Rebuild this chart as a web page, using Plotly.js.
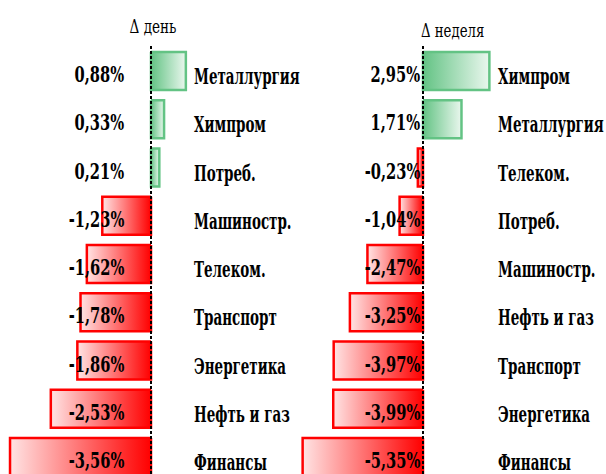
<!DOCTYPE html>
<html><head><meta charset="utf-8">
<script src="https://cdn.plot.ly/plotly-3.0.1.min.js"></script>
<style>html,body{margin:0;padding:0;background:#fff}#c{width:606px;height:474px}</style>
</head><body><div id="c"></div>
<script>
const title1 = 'Δ день';
const title2 = 'Δ неделя';
const cats1 = ['Металлургия','Химпром','Потреб.','Машиностр.','Телеком.','Транспорт','Энергетика','Нефть и газ','Финансы'];
const vals1 = [0.88, 0.33, 0.21, -1.23, -1.62, -1.78, -1.86, -2.53, -3.56];
const cats2 = ['Химпром','Металлургия','Телеком.','Потреб.','Машиностр.','Нефть и газ','Транспорт','Энергетика','Финансы'];
const vals2 = [2.95, 1.71, -0.23, -1.04, -2.47, -3.25, -3.97, -3.99, -5.35];

const FONT = '"DejaVu Serif Condensed", "DejaVu Sans Condensed", serif';
const GREEN = '#63c384', RED = '#ff0000';
const half = 0.394;

function fmt(v){ return v.toFixed(2).replace('.', ',') + '%'; }

const traces = [];
const annotations = [];
const squeeze = [];   // horizontal text compression per annotation
function panel(vals, cats, xa, labelX, catX){
  vals.forEach((v, i) => {
    const pos = v >= 0;
    traces.push({
      type:'scatter', mode:'lines', xaxis:xa, yaxis:'y',
      x:[0, v, v, 0, 0], y:[i-half, i-half, i+half, i+half, i-half],
      fill:'toself',
      fillgradient:{type:'horizontal',
        start: pos ? 0 : v, stop: pos ? v : 0,
        colorscale: pos ? [[0, GREEN],[1,'#eaf7ee']] : [[0,'#ffe4e4'],[1, RED]]},
      line:{color: pos ? GREEN : RED, width:2.5},
      hoverinfo:'skip', showlegend:false
    });
    annotations.push({xref:xa, yref:'y', x:labelX, y:i, xanchor:'right', yanchor:'middle', yshift:-3,
      text:fmt(v), showarrow:false, font:{family:FONT, size:22, weight:'bold', color:'#000'}});
    squeeze.push([0.74, 'right']);
    annotations.push({xref:'paper', yref:'y', x:catX, y:i, xanchor:'left', yanchor:'middle', yshift:-5,
      text:cats[i], showarrow:false, font:{family:FONT, size:22, weight:'bold', color:'#000'}});
    squeeze.push([0.68, 'left']);
  });
}
panel(vals1, cats1, 'x', -0.62, 192/606);
panel(vals2, cats2, 'x2', -0.03, 496/606);

annotations.push({xref:'paper', yref:'paper', x:153/606, y:1-27/474, xanchor:'center', yanchor:'middle',
  text:title1, showarrow:false, font:{family:FONT, size:18, color:'#000'}});
squeeze.push([0.84, 'center']);
annotations.push({xref:'paper', yref:'paper', x:452/606, y:1-31/474, xanchor:'center', yanchor:'middle',
  text:title2, showarrow:false, font:{family:FONT, size:18, color:'#000'}});
squeeze.push([0.82, 'center']);

const shapes = [
  {type:'line', xref:'x', yref:'paper', x0:0, x1:0, y0:0, y1:1-46/474, line:{color:'#000', width:2, dash:'3px,2px'}, layer:'above'},
  {type:'line', xref:'x2', yref:'paper', x0:0, x1:0, y0:0, y1:1-46/474, line:{color:'#000', width:2, dash:'3px,2px'}, layer:'above'}
];

const hidden = {visible:false, showgrid:false, zeroline:false, fixedrange:true};
const layout = {
  width:606, height:474, margin:{l:0,r:0,t:0,b:0},
  paper_bgcolor:'#fff', plot_bgcolor:'rgba(0,0,0,0)', showlegend:false,
  xaxis:Object.assign({}, hidden, {domain:[0,0.5], range:[-151/39.6, (303-151)/39.6]}),
  xaxis2:Object.assign({}, hidden, {domain:[0.45,1], range:[(272.7-423)/22.5, (606-423)/22.5], anchor:'y'}),
  yaxis:Object.assign({}, hidden, {range:[(474-71)/48.25, -71/48.25]}),
  annotations, shapes
};
Plotly.newPlot('c', traces, layout, {staticPlot:true}).then(gd => {
  gd.querySelectorAll('g.annotation').forEach(g => {
    const idx = +g.getAttribute('data-index');
    const sq = squeeze[idx];
    const t = g.querySelector('text');
    if (!sq || !t) return;
    t.style.transformBox = 'fill-box';
    t.style.transformOrigin = sq[1] + ' center';
    t.style.transform = 'scaleX(' + sq[0] + ')';
  });
});
</script></body></html>
